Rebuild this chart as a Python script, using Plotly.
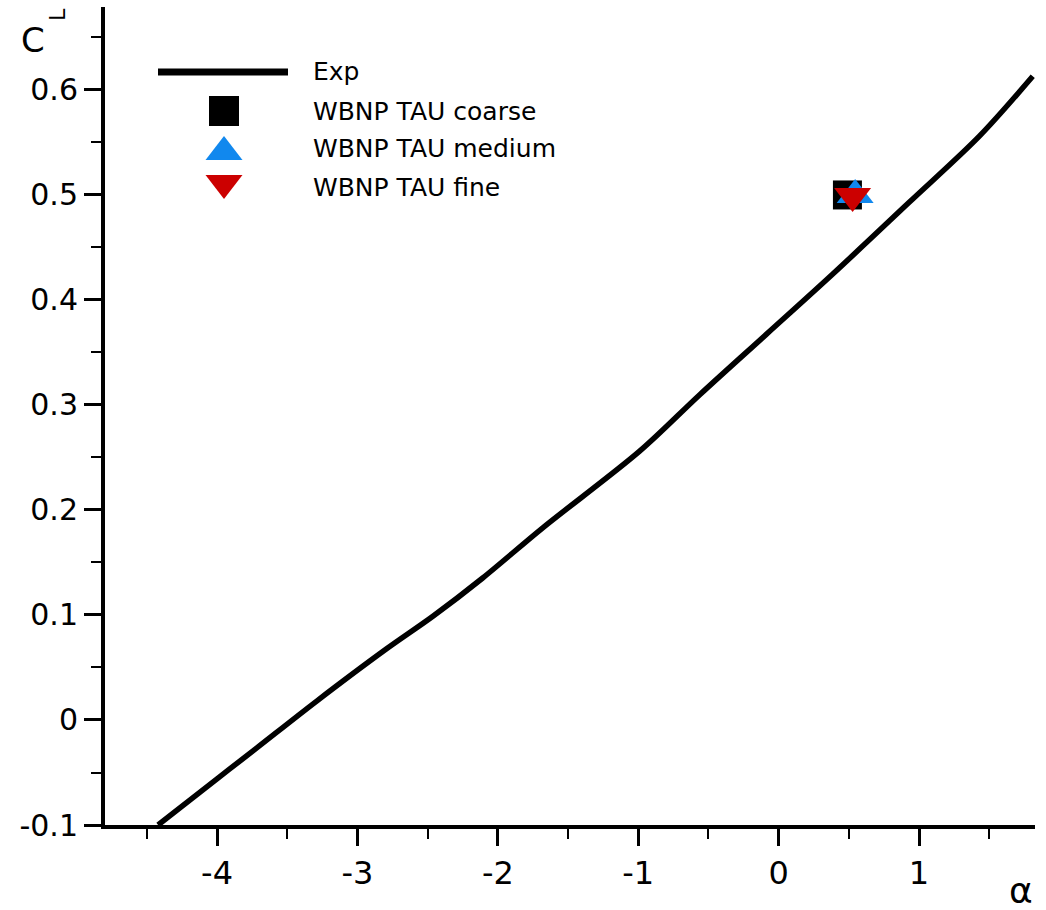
import plotly.graph_objects as go

# Experimental lift curve C_L(alpha)
exp_alpha = [-4.42, -4.00, -3.73, -3.29, -2.79, -2.46, -2.11, -1.68, -0.99,
             -0.56, -0.09, 0.38, 0.93, 1.43, 1.81]
exp_cl = [-0.100, -0.056, -0.028, 0.018, 0.068, 0.099, 0.135, 0.183, 0.256,
          0.310, 0.367, 0.424, 0.493, 0.556, 0.613]

# TAU results on three grid levels
coarse_alpha = [0.49]
coarse_cl = [0.500]
medium_alpha = [0.545]
medium_cl = [0.500]
fine_alpha = [0.527]
fine_cl = [0.499]

series_names = ["Exp", "WBNP TAU coarse", "WBNP TAU medium", "WBNP TAU fine"]

x_tickvals = [-4, -3, -2, -1, 0, 1]
x_ticktext = ["-4", "-3", "-2", "-1", "0", "1"]
y_tickvals = [-0.1, 0, 0.1, 0.2, 0.3, 0.4, 0.5, 0.6]
y_ticktext = ["-0.1", "0", "0.1", "0.2", "0.3", "0.4", "0.5", "0.6"]

W, H = 1046, 910
ML, MR, MT, MB = 105, 11, 7, 85
PW, PH = W - ML - MR, H - MT - MB
FONT = "DejaVu Sans"

BLUE = "#1188ee"
RED = "#cc0000"


def px(x):
    return (x - ML) / PW


def py(y):
    return (H - MB - y) / PH


fig = go.Figure()

fig.add_trace(go.Scatter(x=exp_alpha, y=exp_cl, mode="lines",
                         line=dict(color="black", width=5.5, shape="spline", smoothing=0.9),
                         name=series_names[0], showlegend=False))
fig.add_trace(go.Scatter(x=coarse_alpha, y=coarse_cl, mode="markers",
                         marker=dict(symbol="square", size=29, color="black"),
                         name=series_names[1], showlegend=False))
fig.add_trace(go.Scatter(x=medium_alpha, y=medium_cl, mode="markers",
                         marker=dict(symbol="triangle-up", size=32, color=BLUE),
                         name=series_names[2], showlegend=False))
fig.add_trace(go.Scatter(x=fine_alpha, y=fine_cl, mode="markers",
                         marker=dict(symbol="triangle-down", size=32, color=RED),
                         name=series_names[3], showlegend=False))

# Legend block drawn on a pixel-scaled overlay axis
leg_rows = [72, 111, 148, 187]
leg_x0, leg_x1, leg_xm, leg_tx = 158, 288, 224, 311
fig.add_trace(go.Scatter(x=[leg_x0, leg_x1], y=[leg_rows[0]] * 2, mode="lines",
                         line=dict(color="black", width=7),
                         xaxis="x2", yaxis="y2", showlegend=False, hoverinfo="skip"))
fig.add_trace(go.Scatter(x=[leg_xm], y=[leg_rows[1]], mode="markers",
                         marker=dict(symbol="square", size=30, color="black"),
                         xaxis="x2", yaxis="y2", showlegend=False, hoverinfo="skip"))
fig.add_trace(go.Scatter(x=[leg_xm], y=[leg_rows[2] + 4], mode="markers",
                         marker=dict(symbol="triangle-up", size=32, color=BLUE),
                         xaxis="x2", yaxis="y2", showlegend=False, hoverinfo="skip"))
fig.add_trace(go.Scatter(x=[leg_xm], y=[leg_rows[3] - 4], mode="markers",
                         marker=dict(symbol="triangle-down", size=32, color=RED),
                         xaxis="x2", yaxis="y2", showlegend=False, hoverinfo="skip"))

annotations = []
for name, row in zip(series_names, leg_rows):
    annotations.append(dict(text=name, x=px(leg_tx), y=py(row), xref="paper", yref="paper",
                            xanchor="left", yanchor="middle", showarrow=False,
                            font=dict(family=FONT, size=25, color="black")))

# Axis titles
annotations.append(dict(text="C", x=px(33), y=py(40), xref="paper", yref="paper",
                        xanchor="center", yanchor="middle", showarrow=False,
                        font=dict(family=FONT, size=34, color="black")))
annotations.append(dict(text="L", x=px(57), y=py(15), xref="paper", yref="paper",
                        xanchor="center", yanchor="middle", showarrow=False, textangle=-90,
                        font=dict(family=FONT, size=22, color="black")))
annotations.append(dict(text="α", x=px(1021), y=py(890), xref="paper", yref="paper",
                        xanchor="center", yanchor="middle", showarrow=False,
                        font=dict(family=FONT, size=36, color="black")))

fig.update_layout(
    width=W, height=H,
    margin=dict(l=ML, r=MR, t=MT, b=MB),
    paper_bgcolor="white", plot_bgcolor="white",
    font=dict(family=FONT, color="black"),
    showlegend=False,
    annotations=annotations,
    xaxis=dict(range=[-4.798, 1.826], showgrid=False, zeroline=False,
               showline=True, linecolor="black", linewidth=4,
               ticks="outside", ticklen=17, tickwidth=3, tickcolor="black",
               tickvals=x_tickvals, ticktext=x_ticktext,
               tickfont=dict(family=FONT, size=32, color="black"),
               minor=dict(ticks="outside", ticklen=10, tickwidth=1.5,
                          tickcolor="black", dtick=0.5, showgrid=False)),
    yaxis=dict(range=[-0.1, 0.679], showgrid=False, zeroline=False,
               showline=True, linecolor="black", linewidth=4,
               ticks="outside", ticklen=17, tickwidth=3, tickcolor="black",
               tickvals=y_tickvals, ticktext=y_ticktext,
               tickfont=dict(family=FONT, size=30, color="black"),
               minor=dict(ticks="outside", ticklen=10, tickwidth=1.5,
                          tickcolor="black", dtick=0.05, showgrid=False)),
    xaxis2=dict(range=[ML, W - MR], overlaying="x", visible=False, fixedrange=True),
    yaxis2=dict(range=[H - MB, MT], overlaying="y", visible=False, fixedrange=True),
)

fig.write_html("out.html")
